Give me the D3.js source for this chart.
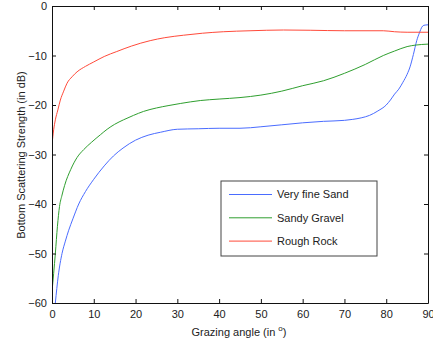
<!DOCTYPE html>
<html>
<head>
<meta charset="utf-8">
<script src="https://cdn.jsdelivr.net/npm/d3@7"></script>
<style>
  body { margin: 0; background: #fff; }
  svg text { font-family: "Liberation Sans", Arial, sans-serif; fill: #222; }
</style>
</head>
<body>
<div id="chart"></div>
<script>
// grazing angle samples (degrees) and strength (dB)
var sandAngle   = [0.8, 1.5, 2.4, 3.2, 4, 5, 6.4, 8, 10, 12.5, 14.7, 17, 20, 23, 26, 30, 35, 40, 45, 50, 55, 60, 65, 70, 72, 74, 76, 78, 80, 81, 82, 83, 84, 85, 85.7, 86.5, 87.3, 88, 88.5, 89, 90];
var sandValues  = [-60, -54.5, -50, -47.5, -45.3, -43, -40, -37.5, -35, -32.3, -30.3, -28.7, -27.1, -26.1, -25.5, -24.9, -24.8, -24.7, -24.7, -24.4, -24, -23.6, -23.3, -23.1, -22.9, -22.6, -22.1, -21.2, -20, -19, -17.8, -16.8, -15.4, -13.8, -12.3, -9.8, -7, -5.3, -4.3, -3.9, -3.8];

var gravelAngle  = [0, 0.4, 0.8, 1.3, 1.8, 2.4, 3, 4.5, 6, 7.6, 9.5, 11.6, 13.2, 15, 17.1, 19.5, 21.9, 25, 28, 30.7, 35.5, 40, 45, 50, 55, 60, 65, 70, 75, 79.3, 82, 85, 87, 90];
var gravelValues = [-57.7, -54, -50, -44.5, -40.5, -38.2, -36.3, -33, -30.6, -29, -27.5, -26, -24.9, -23.9, -23, -22.1, -21.3, -20.6, -20.1, -19.7, -19.1, -18.8, -18.5, -18, -17.2, -16.1, -15.1, -13.6, -11.8, -10, -9.1, -8.2, -7.9, -7.7];

var rockAngle  = [0, 0.4, 0.8, 1.4, 2, 2.8, 3.6, 4.8, 6, 8, 10, 12.5, 15.5, 19, 23.5, 27, 31.5, 36, 41, 47.4, 55.4, 61.8, 70, 79.3, 82, 85, 90];
var rockValues = [-28, -25, -23, -21, -19, -17.2, -15.6, -14.3, -13.3, -12.2, -11.3, -10.2, -9.2, -8.1, -7, -6.4, -5.9, -5.5, -5.2, -5.0, -4.85, -4.9, -5.0, -5.0, -5.2, -5.3, -5.3];

var seriesNames  = ["Very fine Sand", "Sandy Gravel", "Rough Rock"];
var seriesColors = ["#4a6cff", "#2f9f2f", "#ff4a3a"];

var xTicks = [0, 10, 20, 30, 40, 50, 60, 70, 80, 90];
var yTicks = [0, -10, -20, -30, -40, -50, -60];

var W = 433, H = 347;
var margin = { left: 52, top: 6, right: 5, bottom: 44 };
var plotW = W - margin.left - margin.right, plotH = H - margin.top - margin.bottom;

var svg = d3.select('#chart').append('svg').attr('width', W).attr('height', H);
var g = svg.append('g').attr('transform', 'translate(' + margin.left + ',' + margin.top + ')');

var x = d3.scaleLinear().domain([0, 90]).range([0, plotW]);
var y = d3.scaleLinear().domain([-60, 0]).range([plotH, 0]);

var tickLen = 4;
var tickFont = '11px';

// clip so curves stay inside the box
svg.append('clipPath').attr('id', 'clip').append('rect').attr('width', plotW).attr('height', plotH);

var series = [
  { name: seriesNames[0], color: seriesColors[0], ang: sandAngle, val: sandValues },
  { name: seriesNames[1], color: seriesColors[1], ang: gravelAngle, val: gravelValues },
  { name: seriesNames[2], color: seriesColors[2], ang: rockAngle, val: rockValues }
];

var line = d3.line().curve(d3.curveMonotoneX).x(function(d) { return x(d[0]); }).y(function(d) { return y(d[1]); });

g.append('g').attr('clip-path', 'url(#clip)').selectAll('path').data(series).enter().append('path')
  .attr('d', function(s) { return line(d3.zip(s.ang, s.val)); })
  .attr('fill', 'none').attr('stroke', function(s) { return s.color; }).attr('stroke-width', 1);

// axes, MATLAB style: inner ticks on all four sides
var xAxis = d3.axisBottom(x).tickValues(xTicks).tickSizeInner(-tickLen).tickSizeOuter(0).tickPadding(7);
var yAxis = d3.axisLeft(y).tickValues(yTicks).tickSizeInner(-tickLen).tickSizeOuter(0).tickPadding(5);

var xa = g.append('g').attr('transform', 'translate(0,' + plotH + ')').call(xAxis);
var ya = g.append('g').call(yAxis);
var xt = g.append('g').call(d3.axisTop(x).tickValues(xTicks).tickSizeInner(-tickLen).tickSizeOuter(0).tickFormat(''));
var yr = g.append('g').attr('transform', 'translate(' + plotW + ',0)').call(d3.axisRight(y).tickValues(yTicks).tickSizeInner(-tickLen).tickSizeOuter(0).tickFormat(''));

[xa, ya, xt, yr].forEach(function(a) {
  a.selectAll('.domain').attr('stroke', '#111');
  a.selectAll('.tick line').attr('stroke', '#111');
  a.selectAll('text').attr('font-size', tickFont).attr('font-family', '"Liberation Sans", Arial, sans-serif').attr('fill', '#222');
});

// axis titles
var xl = svg.append('text').attr('x', 239).attr('y', 336).attr('text-anchor', 'middle').attr('font-size', '11px');
xl.append('tspan').text('Grazing angle (in ');
xl.append('tspan').attr('font-size', '8px').attr('dy', -5).text('o');
xl.append('tspan').attr('dy', 5).text(')');

svg.append('text').attr('transform', 'translate(25,155) rotate(-90)').attr('text-anchor', 'middle')
  .attr('font-size', '11px').text('Bottom Scattering Strength (in dB)');

// legend
var leg = svg.append('g').attr('transform', 'translate(221,181)');
leg.append('rect').attr('width', 156).attr('height', 75).attr('fill', '#fff').attr('stroke', '#444').attr('stroke-width', 1);
var rows = leg.selectAll('g.row').data(series).enter().append('g').attr('class', 'row')
  .attr('transform', function(d, i) { return 'translate(0,' + (13.5 + i * 23.3) + ')'; });
rows.append('line').attr('x1', 8).attr('x2', 51).attr('stroke', function(d) { return d.color; });
rows.append('text').attr('x', 56).attr('dy', '0.35em').attr('font-size', '11px').text(function(d) { return d.name; });
</script>
</body>
</html>
